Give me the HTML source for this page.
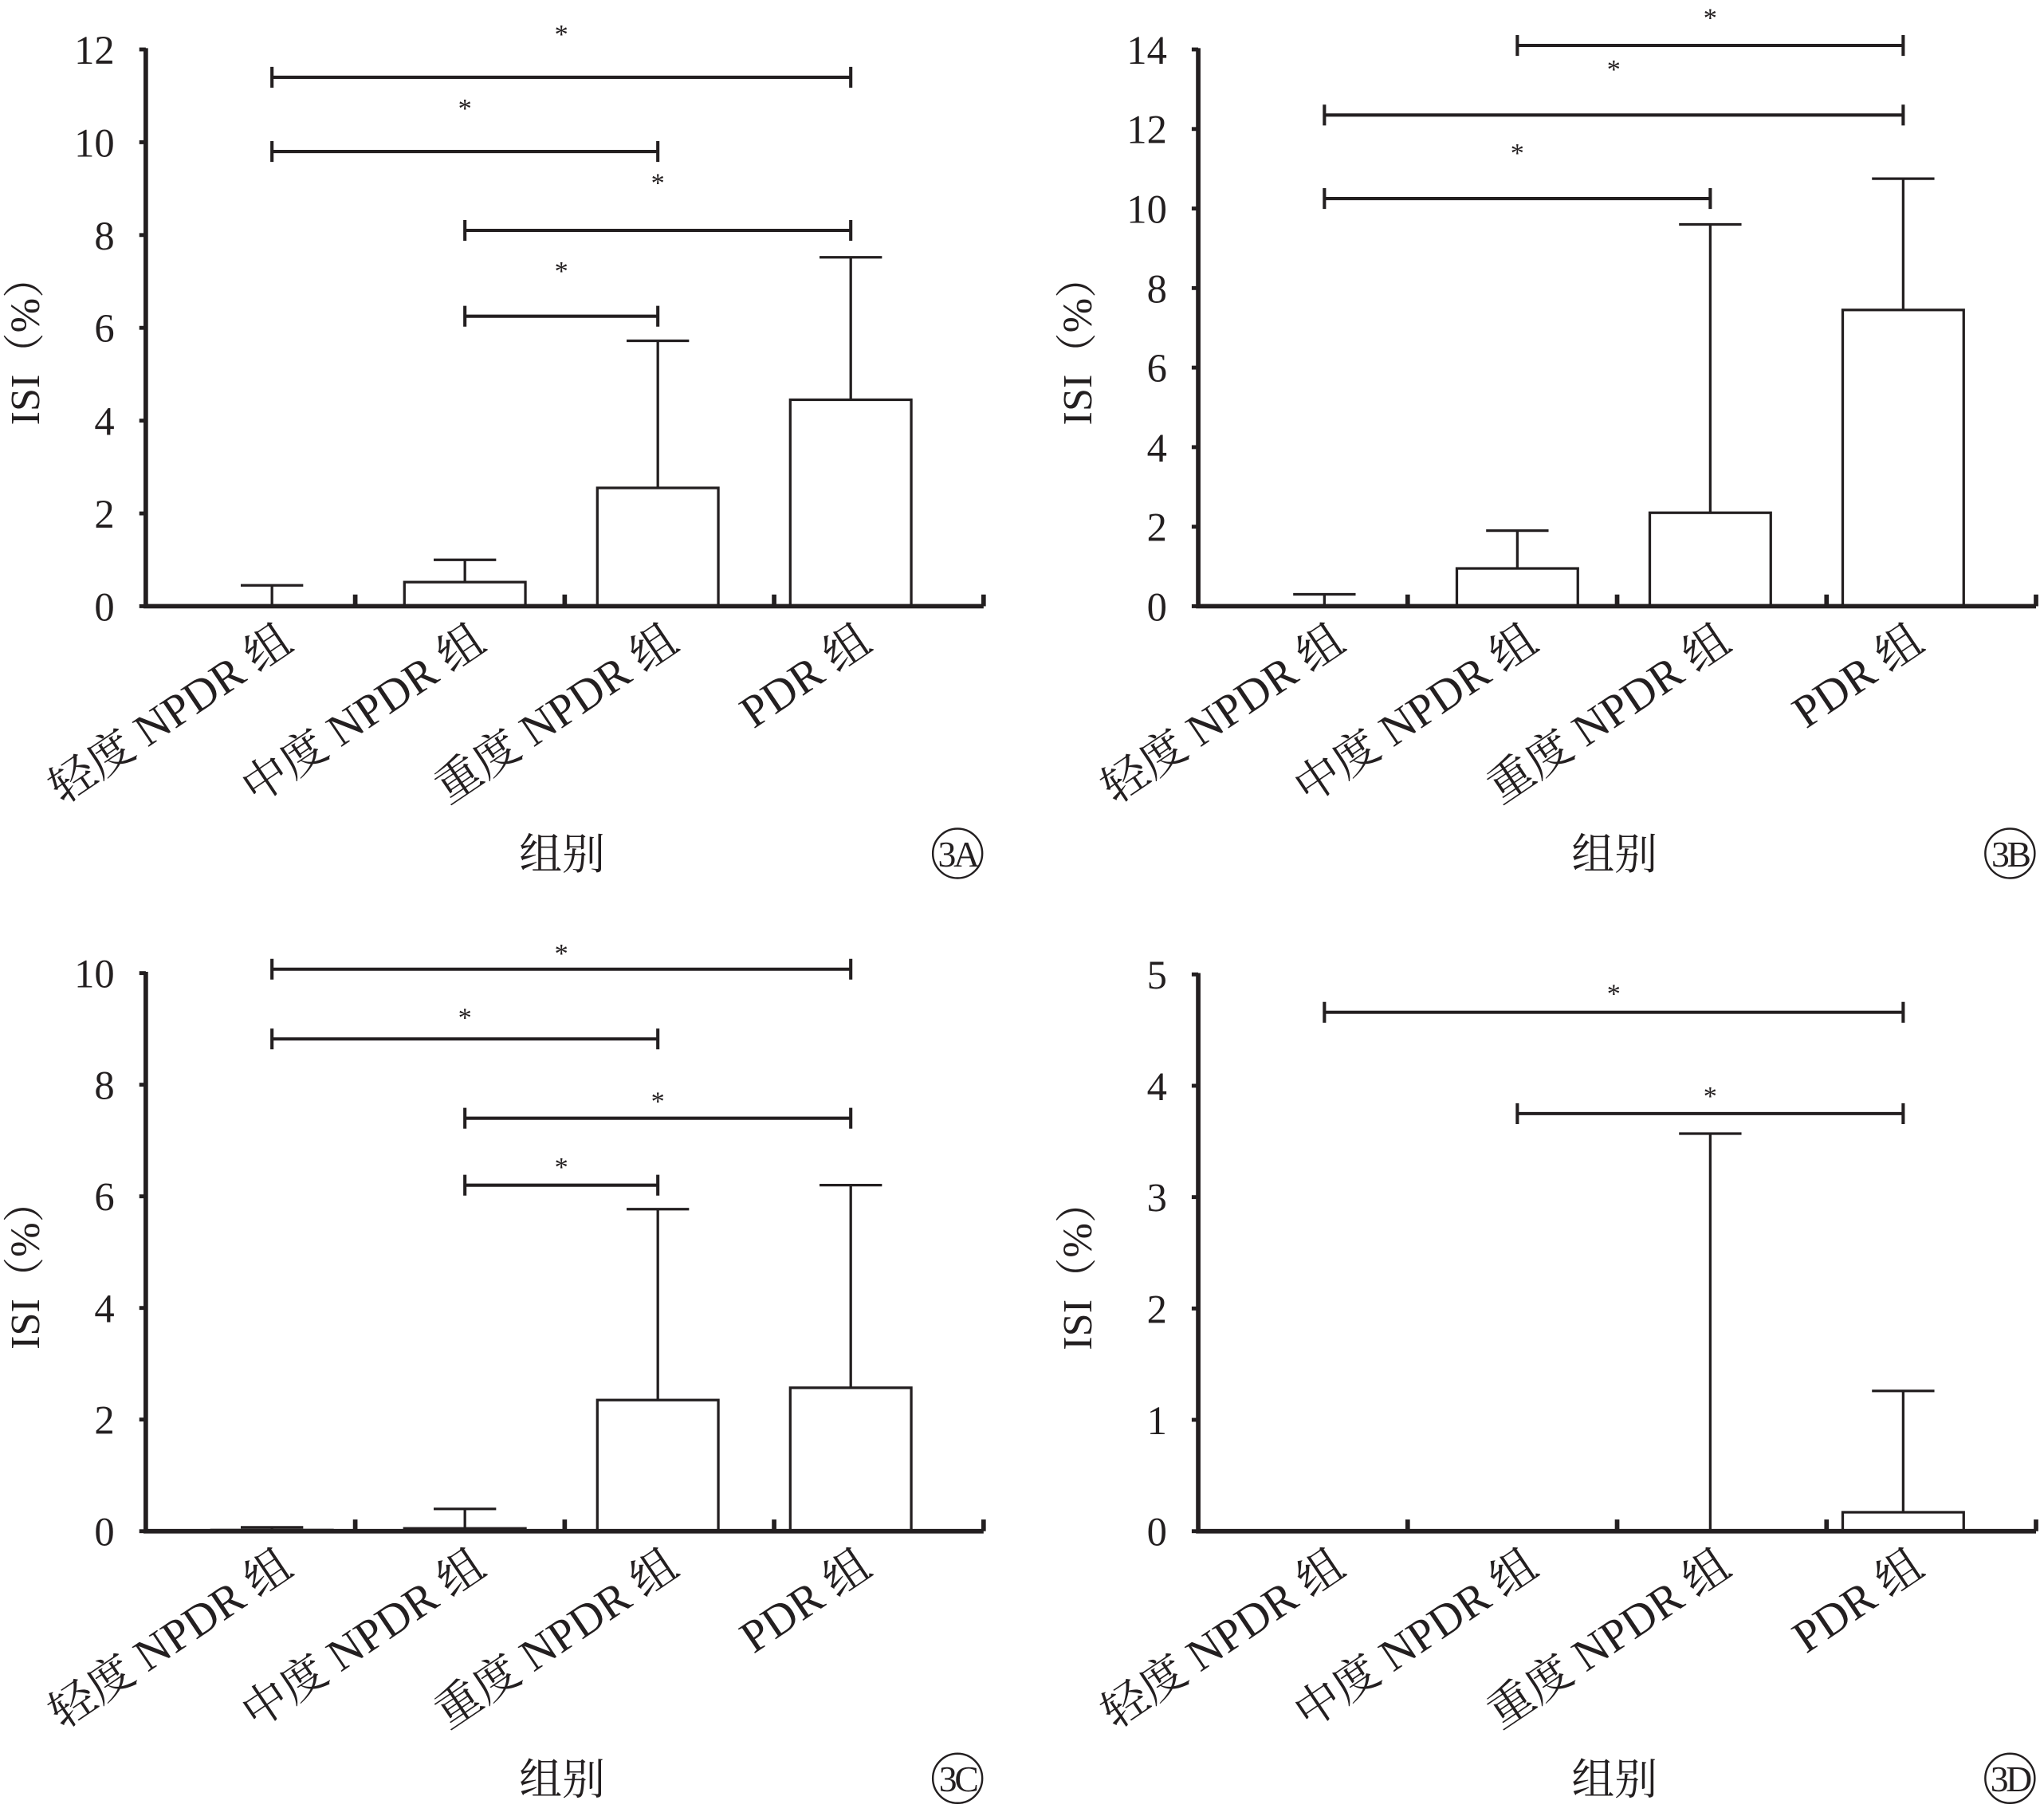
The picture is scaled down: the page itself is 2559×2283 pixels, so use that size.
<!DOCTYPE html>
<html><head><meta charset="utf-8"><style>
html,body{margin:0;padding:0;background:#fff}
svg{display:block}
text{font-family:"Liberation Serif","Noto Serif CJK SC","Noto Sans CJK SC",serif;fill:#231f20}
</style></head><body>
<svg id="fig" width="2559" height="2283" viewBox="0 0 1568 1399" xmlns="http://www.w3.org/2000/svg"></svg>
<script>
const categories = ["轻度 NPDR 组","中度 NPDR 组","重度 NPDR 组","PDR 组"];
const meansA = [0, 0.52, 2.55, 4.45];
const errTopA = [0.45, 1.0, 5.72, 7.52];
const ticksA = [0,2,4,6,8,10,12];
const bracketsA = [[0,3,11.4,12.5],[0,2,9.8,10.9],[1,3,8.1,9.3],[1,2,6.25,7.4]];
const meansB = [0, 0.95, 2.35, 7.45];
const errTopB = [0.3, 1.9, 9.6, 10.75];
const ticksB = [0,2,4,6,8,10,12,14];
const bracketsB = [[1,3,14.1,15.0],[0,3,12.35,13.7],[0,2,10.25,11.6]];
const meansC = [0.02, 0.05, 2.35, 2.57];
const errTopC = [0.07, 0.4, 5.77, 6.2];
const ticksC = [0,2,4,6,8,10];
const bracketsC = [[0,3,10.07,10.5],[0,2,8.82,9.35],[1,3,7.4,7.85],[1,2,6.2,6.67]];
const meansD = [0, 0, 0, 0.17];
const errTopD = [0, 0, 3.57, 1.26];
const ticksD = [0,1,2,3,4,5];
const bracketsD = [[0,3,4.66,4.9],[1,3,3.75,3.98]];

const NS="http://www.w3.org/2000/svg";
const svg=document.getElementById('fig');
function mk(tag,attrs,parent){const e=document.createElementNS(NS,tag);for(const k in attrs)e.setAttribute(k,attrs[k]);(parent||svg).appendChild(e);return e;}

function panel(id,x0,yTop,yBot,means,errs,ticks,brackets,letter){
  const g=mk('g',{});
  
  
  const ymax=ticks[ticks.length-1];
  const W=644;
  const y=v=>yBot-(v/ymax)*(yBot-yTop);
  const step=W/4;
  const cx=i=>x0+97+148.3*i;
  means.forEach((m,i)=>{
    const bw=93;
    if(m>0){
      const r=mk('rect',{x:cx(i)-bw/2,y:y(m),width:bw,height:yBot-y(m),fill:'#fff',stroke:'#231f20','stroke-width':2},g);
      
      
    }
    if(errs[i]>m){
      const e=mk('path',{d:`M${cx(i)},${y(m)}V${y(errs[i])}M${cx(i)-24},${y(errs[i])}H${cx(i)+24}`,stroke:'#231f20','stroke-width':2,fill:'none'},g);
      
      
    }
  });
  const ax=mk('path',{d:`M${x0},${yTop-1}V${yBot}H${x0+W}`,stroke:'#231f20','stroke-width':3.5,fill:'none'},g);
  
  
  for(let k=1;k<=4;k++){mk('line',{x1:x0+step*k,x2:x0+step*k,y1:yBot,y2:yBot-9,stroke:'#231f20','stroke-width':3.5},g);}
  ticks.forEach(t=>{
    mk('line',{x1:x0-5,x2:x0,y1:y(t),y2:y(t),stroke:'#231f20','stroke-width':3},g);
    const tl=mk('text',{x:x0-24,y:y(t)+11,'text-anchor':'end','font-size':31},g);
    tl.textContent=t;
    
    
  });
  brackets.forEach(b=>{
    const xa=cx(b[0]),xb=cx(b[1]),yy=y(b[2]);
    const p=mk('path',{d:`M${xa},${yy-8}V${yy+8}M${xa},${yy}H${xb}M${xb},${yy-8}V${yy+8}`,stroke:'#231f20','stroke-width':2.5,fill:'none'},g);
    
    
    const s=mk('text',{x:(xa+xb)/2,y:y(b[3])+13,'text-anchor':'middle','font-size':21},g);
    s.textContent='*';
    
    
  });
  categories.forEach((c,i)=>{
    const tx=cx(i)+18,ty=yBot+32;
    const t=mk('text',{x:tx,y:ty,'text-anchor':'end','font-size':35,transform:`rotate(-34 ${tx} ${ty})`},g);
    t.textContent=c;
    
    
  });
  const xt=mk('text',{x:x0+320,y:yBot+202,'text-anchor':'middle','font-size':33},g);
  xt.textContent='组别';
  
  
  const yx=x0-82,yy2=(yTop+yBot)/2+10;
  const yt=mk('text',{x:yx,y:yy2,'text-anchor':'middle','font-size':32,transform:`rotate(-90 ${yx} ${yy2})`},g);
  yt.textContent='ISI（%）';
  
  
  const cxl=x0+624,cyl=yBot+190;
  mk('circle',{cx:cxl,cy:cyl,r:19,fill:'none',stroke:'#231f20','stroke-width':1.5},g);
  const lt=mk('text',{x:cxl,y:cyl+10,'text-anchor':'middle','font-size':28,'letter-spacing':-2},g);
  lt.textContent=letter;
  
  
}
panel('a',112,38,466,meansA,errTopA,ticksA,bracketsA,'3A');
panel('b',921,38,466,meansB,errTopB,ticksB,bracketsB,'3B');
panel('c',112,748,1177,meansC,errTopC,ticksC,bracketsC,'3C');
panel('d',921,749,1177,meansD,errTopD,ticksD,bracketsD,'3D');
</script>
</body></html>
